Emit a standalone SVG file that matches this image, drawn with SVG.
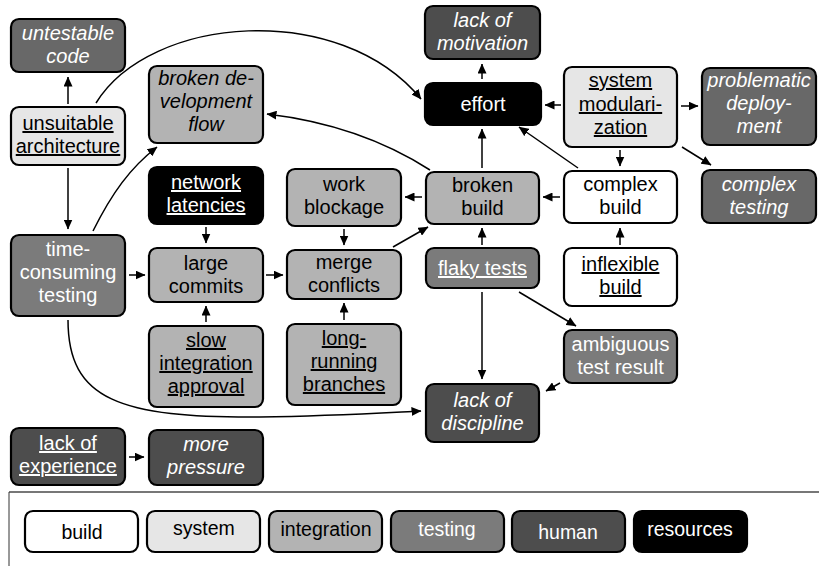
<svg xmlns="http://www.w3.org/2000/svg" width="819" height="570" viewBox="0 0 819 570">
<style>
rect.n{stroke:#000;stroke-width:2.2}
.build{fill:#fff}.system{fill:#e6e6e6}.integ{fill:#b3b3b3}.test{fill:#7b7b7b}.test2{fill:#686868}.human{fill:#4d4d4d}.res{fill:#000}
text{font-family:"Liberation Sans",Arial,sans-serif;font-size:20px;text-anchor:middle}
.w{fill:#fff}.b{fill:#000}.i{font-style:italic}.u{text-decoration:underline;text-decoration-thickness:1px;text-underline-offset:3px}
.lg{font-size:19.5px}
#edges path{fill:none;stroke:#000;stroke-width:1.5;marker-end:url(#ah)}
</style>
<defs>
<marker id="ah" markerWidth="10" markerHeight="9" refX="9.5" refY="4.5" orient="auto" markerUnits="userSpaceOnUse"><path d="M0,0 L10,4.5 L0,9 z" fill="#000"/></marker>
</defs>
<g id="edges">
<path d="M68,104 L68,77"/>
<path d="M96,103 C150,15 340,0 421,99"/>
<path d="M68,168 L68,229"/>
<path d="M93,231 C112,193 130,168 157,147"/>
<path d="M129,275 L145,275"/>
<path d="M68,320 C68,400 120,418 260,417 C330,416 380,413 421,411"/>
<path d="M206,227 L206,243"/>
<path d="M206,322 L206,306"/>
<path d="M266,275 L283,275"/>
<path d="M344,229 L344,245"/>
<path d="M344,320 L344,303"/>
<path d="M393,247 L428,227"/>
<path d="M422,197 L405,197"/>
<path d="M560,197 L543,197"/>
<path d="M482,245 L482,228"/>
<path d="M482,168 L482,129"/>
<path d="M430,170 Q360,125 267,114"/>
<path d="M482,79 L482,64"/>
<path d="M561,105 L545,105"/>
<path d="M681,106 L698,106"/>
<path d="M620,150 L620,166"/>
<path d="M682,147 L711,165"/>
<path d="M578,168 L519,127"/>
<path d="M620,245 L620,228"/>
<path d="M482,292 L482,379"/>
<path d="M519,292 L576,326"/>
<path d="M560,383 L546,391"/>
<path d="M129,457 L144,457"/>
</g>
<g id="untestable-code"><rect class="n test2" x="11" y="19" width="114" height="53" rx="8"/><text class="w i" x="68" y="40">untestable</text><text class="w i" x="68" y="63">code</text></g>
<g id="unsuitable-architecture"><rect class="n system" x="11" y="107" width="114" height="58" rx="8"/><text class="b u" x="68" y="130">unsuitable</text><text class="b u" x="68" y="153">architecture</text></g>
<g id="broken-development-flow"><rect class="n integ" x="149" y="66" width="114" height="77" rx="8"/><text class="b i" x="206" y="85">broken de-</text><text class="b i" x="206" y="108">velopment</text><text class="b i" x="206" y="131">flow</text></g>
<g id="lack-of-motivation"><rect class="n human" x="425" y="6" width="115" height="53" rx="8"/><text class="w i" x="482.5" y="27">lack of</text><text class="w i" x="482.5" y="50">motivation</text></g>
<g id="effort"><rect class="n res" x="425" y="83" width="116" height="42" rx="8"/><text class="w" x="483" y="111">effort</text></g>
<g id="system-modularization"><rect class="n system" x="564" y="67" width="113" height="80" rx="8"/><text class="b u" x="620.5" y="87">system</text><text class="b u" x="620.5" y="111">modulari-</text><text class="b u" x="620.5" y="134">zation</text></g>
<g id="problematic-deployment"><rect class="n test2" x="702" y="68" width="114" height="77" rx="8"/><text class="w i" x="759" y="87">problematic</text><text class="w i" x="759" y="110">deploy-</text><text class="w i" x="759" y="133">ment</text></g>
<g id="complex-build"><rect class="n build" x="564" y="171" width="113" height="52" rx="8"/><text class="b" x="620.5" y="191">complex</text><text class="b" x="620.5" y="214">build</text></g>
<g id="complex-testing"><rect class="n test2" x="702" y="170" width="114" height="53" rx="8"/><text class="w i" x="759" y="191">complex</text><text class="w i" x="759" y="214">testing</text></g>
<g id="network-latencies"><rect class="n res" x="149" y="167" width="114" height="57" rx="8"/><text class="w u" x="206" y="189">network</text><text class="w u" x="206" y="212">latencies</text></g>
<g id="work-blockage"><rect class="n integ" x="287" y="169" width="114" height="57" rx="8"/><text class="b" x="344" y="191">work</text><text class="b" x="344" y="214">blockage</text></g>
<g id="broken-build"><rect class="n integ" x="426" y="172" width="113" height="52" rx="8"/><text class="b" x="482.5" y="192">broken</text><text class="b" x="482.5" y="215">build</text></g>
<g id="time-consuming-testing"><rect class="n test" x="11" y="235" width="114" height="81" rx="8"/><text class="w" x="68" y="256">time-</text><text class="w" x="68" y="279">consuming</text><text class="w" x="68" y="302">testing</text></g>
<g id="large-commits"><rect class="n integ" x="149" y="248" width="114" height="54" rx="8"/><text class="b" x="206" y="270">large</text><text class="b" x="206" y="293">commits</text></g>
<g id="merge-conflicts"><rect class="n integ" x="287" y="250" width="114" height="49" rx="8"/><text class="b" x="344" y="269">merge</text><text class="b" x="344" y="292">conflicts</text></g>
<g id="flaky-tests"><rect class="n test" x="426" y="248" width="113" height="40" rx="8"/><text class="w u" x="482.5" y="275">flaky tests</text></g>
<g id="inflexible-build"><rect class="n build" x="564" y="248" width="113" height="58" rx="8"/><text class="b u" x="620.5" y="271">inflexible</text><text class="b u" x="620.5" y="294">build</text></g>
<g id="slow-integration-approval"><rect class="n integ" x="149" y="326" width="114" height="81" rx="8"/><text class="b u" x="206" y="347">slow</text><text class="b u" x="206" y="370">integration</text><text class="b u" x="206" y="393">approval</text></g>
<g id="long-running-branches"><rect class="n integ" x="287" y="324" width="114" height="81" rx="8"/><text class="b u" x="344" y="345">long-</text><text class="b u" x="344" y="368">running</text><text class="b u" x="344" y="391">branches</text></g>
<g id="ambiguous-test-result"><rect class="n test" x="564" y="330" width="113" height="53" rx="8"/><text class="w" x="620.5" y="351">ambiguous</text><text class="w" x="620.5" y="374">test result</text></g>
<g id="lack-of-discipline"><rect class="n human" x="426" y="384" width="113" height="58" rx="8"/><text class="w i" x="482.5" y="407">lack of</text><text class="w i" x="482.5" y="430">discipline</text></g>
<g id="lack-of-experience"><rect class="n human" x="11" y="428" width="114" height="57" rx="8"/><text class="w u" x="68" y="450">lack of</text><text class="w u" x="68" y="473">experience</text></g>
<g id="more-pressure"><rect class="n human" x="149" y="430" width="114" height="55" rx="8"/><text class="w i" x="206" y="451">more</text><text class="w i" x="206" y="474">pressure</text></g>
<g id="legend">
<line x1="9" y1="492" x2="819" y2="492" stroke="#777" stroke-width="2"/>
<line x1="9" y1="492" x2="9" y2="566" stroke="#333" stroke-width="1"/>
<rect class="n build" x="25" y="511" width="113" height="41" rx="8"/><text class="b lg" x="82" y="539">build</text>
<rect class="n system" x="147" y="511" width="113" height="41" rx="8"/><text class="b lg" x="204" y="535">system</text>
<rect class="n integ" x="269" y="511" width="113" height="41" rx="8"/><text class="b lg" x="326" y="536">integration</text>
<rect class="n test" x="391" y="511" width="113" height="41" rx="8"/><text class="w lg" x="447" y="536">testing</text>
<rect class="n human" x="512" y="511" width="113" height="41" rx="8"/><text class="w lg" x="568" y="539">human</text>
<rect class="n res" x="634" y="511" width="113" height="41" rx="8"/><text class="w lg" x="690" y="536">resources</text>
</g>
</svg>
